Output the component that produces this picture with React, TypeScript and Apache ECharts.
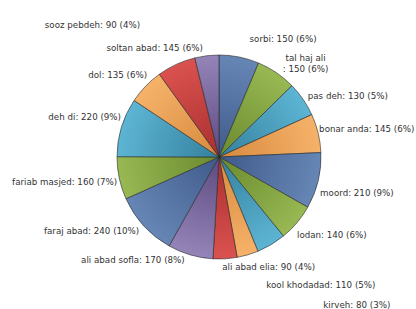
import React, { useEffect, useRef } from "react";
import * as echarts from "echarts";

// ---- data ----
const categories = [
  "sorbi", "tal haj ali", "pas deh", "bonar anda", "moord", "lodan",
  "kool khodadad", "kirveh", "ali abad elia", "ali abad sofla", "faraj abad",
  "fariab masjed", "deh di", "dol", "soltan abad", "sooz pebdeh",
];
const values = [150, 150, 130, 145, 210, 140, 110, 80, 90, 170, 240, 160, 220, 135, 145, 90];
const percentLabels = [6, 6, 5, 6, 9, 6, 5, 3, 4, 8, 10, 7, 9, 6, 6, 4];

// ---- layout / style ----
const CX = 219;
const CY = 157;
const R = 102;
const LABEL_R = 104;
const PALETTE: Record<string, [string, string]> = {
  blue: ["#3f5a8a", "#6686b6"],
  green: ["#6a8a2f", "#97b852"],
  teal: ["#33809e", "#5db5d3"],
  orange: ["#d6893d", "#f6b26a"],
  red: ["#a82f2e", "#da524f"],
  purple: ["#5d4a80", "#9484b8"],
};
const sliceColors = [
  "blue", "green", "teal", "orange", "blue", "green", "teal", "orange",
  "red", "purple", "blue", "green", "teal", "orange", "red", "purple",
];
// label nudges [dx, dy] relative to the computed outside anchor
const labelNudge: number[][] = [
  [10, -16], [28, -8], [3, -2], [-1, -4], [0, 12], [-1.5, 11], [-6, 39], [75, 48],
  [-3, 6], [-5, 3], [-3, 4], [0, 3], [1.5, -10], [3, -10], [27.5, -14.5], [-66.5, -28.7],
];

export default function App() {
  const ref = useRef<HTMLDivElement>(null);
  useEffect(() => {
    if (!ref.current) return;
    const chart = echarts.init(ref.current, undefined, { renderer: "svg" });
    const total = values.reduce((a, b) => a + b, 0);
    const mids: number[] = [];
    let cum = 0;
    values.forEach((v) => {
      mids.push(((cum + v / 2) / total) * Math.PI * 2);
      cum += v;
    });
    const data = categories.map((name, i) => {
      const [dark, light] = PALETTE[sliceColors[i]];
      return {
        name,
        value: values[i],
        itemStyle: {
          color: {
            type: "radial",
            x: CX,
            y: CY,
            r: R,
            global: true,
            colorStops: [
              { offset: 0, color: dark },
              { offset: 1, color: light },
            ],
          },
        },
      };
    });
    chart.setOption({
      animation: false,
      series: [
        {
          type: "pie",
          center: [CX, CY],
          radius: [0, R],
          startAngle: 90,
          clockwise: true,
          avoidLabelOverlap: false,
          data,
          itemStyle: {
            borderColor: "rgba(40,40,40,0.75)",
            borderWidth: 0.8,
          },
          label: {
            show: true,
            position: "outside",
            color: "#333333",
            fontFamily: "DejaVu Sans",
            fontSize: 8.7,
            lineHeight: 11,
            formatter: (p: any) => {
              const i = p.dataIndex;
              const sep = p.name === "tal haj ali" ? "\n: " : ": ";
              return `${p.name}${sep}${p.value} (${percentLabels[i]}%)`;
            },
          },
          labelLine: { show: false },
          labelLayout: (p: any) => {
            const i = p.dataIndex;
            const a = mids[i];
            const s = Math.sin(a);
            const c = Math.cos(a);
            const x = CX + LABEL_R * s + labelNudge[i][0];
            const y = CY - LABEL_R * c + labelNudge[i][1];
            const multi = categories[i] === "tal haj ali";
            return {
              x,
              y,
              align: multi ? "center" : s >= 0 ? "left" : "right",
              verticalAlign: "middle",
            };
          },
        },
      ],
    });
    return () => chart.dispose();
  }, []);
  return (
    <div
      ref={ref}
      style={{ position: "fixed", left: 0, top: 0, width: 416, height: 309, background: "#fff" }}
    />
  );
}
